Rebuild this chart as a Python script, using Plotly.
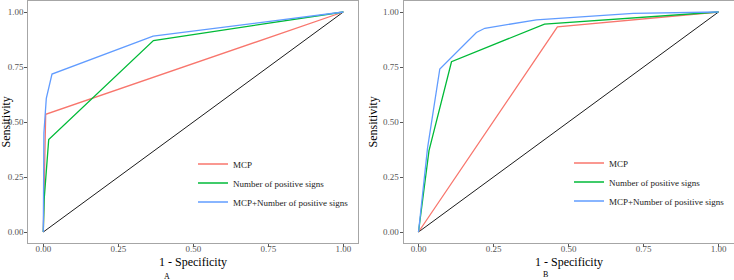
import plotly.graph_objects as go

W, H = 734, 280
FONT = "Times New Roman, Liberation Serif, serif"

series_names = ["MCP", "Number of positive signs", "MCP+Number of positive signs"]
series_colors = ["#F8766D", "#00BA38", "#619CFF"]

# Panel A
a_mcp_x = [0, 0.008, 1]
a_mcp_y = [0, 0.535, 1]
a_num_x = [0, 0.003, 0.018, 0.367, 1]
a_num_y = [0, 0.15, 0.42, 0.87, 1]
a_comb_x = [0, 0.002, 0.01, 0.029, 0.366, 1]
a_comb_y = [0, 0.45, 0.607, 0.718, 0.89, 1]

# Panel B
b_mcp_x = [0, 0.463, 1]
b_mcp_y = [0, 0.932, 1]
b_num_x = [0, 0.035, 0.11, 0.42, 1]
b_num_y = [0, 0.37, 0.774, 0.945, 1]
b_comb_x = [0, 0.03, 0.071, 0.193, 0.221, 0.393, 0.716, 1]
b_comb_y = [0, 0.38, 0.741, 0.907, 0.926, 0.964, 0.994, 1]

diag_x = [0, 1]
diag_y = [0, 1]

tick_vals = [0, 0.25, 0.5, 0.75, 1.0]
tick_text = ["0.00", "0.25", "0.50", "0.75", "1.00"]
panel_labels = ["A", "B"]
x_title = "1 - Specificity"
y_title = "Sensitivity"

fig = go.Figure()

panels = [
    ([a_mcp_x, a_num_x, a_comb_x], [a_mcp_y, a_num_y, a_comb_y], "x", "y", "legend"),
    ([b_mcp_x, b_num_x, b_comb_x], [b_mcp_y, b_num_y, b_comb_y], "x2", "y2", "legend2"),
]
for xs, ys, xa, ya, lg in panels:
    fig.add_trace(go.Scatter(x=diag_x, y=diag_y, mode="lines", xaxis=xa, yaxis=ya,
                             line=dict(color="black", width=0.9), showlegend=False,
                             hoverinfo="skip"))
    for name, color, x, y in zip(series_names, series_colors, xs, ys):
        fig.add_trace(go.Scatter(x=x, y=y, mode="lines", name=name, xaxis=xa, yaxis=ya,
                                 line=dict(color=color, width=1.3), legend=lg))

ydom = [(H - 243) / H, (H - 1) / H]
xdoms = [[28.3 / W, 358.3 / W], [403.5 / W, 733.5 / W]]

axis_common = dict(
    range=[-0.05, 1.05], tickvals=tick_vals, ticktext=tick_text,
    showgrid=False, zeroline=False, showline=True, mirror=True,
    linecolor="#a6a6a6", linewidth=1, ticks="outside", ticklen=3, tickwidth=1,
    tickcolor="#555555", tickfont=dict(family=FONT, size=9, color="#555555"),
    automargin=False,
)

layout = dict(
    width=W, height=H, margin=dict(l=0, r=0, t=0, b=0),
    paper_bgcolor="white", plot_bgcolor="white",
    font=dict(family=FONT, color="black"),
)
for i, xd in enumerate(xdoms):
    sx = "" if i == 0 else str(i + 1)
    layout["xaxis" + sx] = dict(axis_common, domain=xd, anchor="y" + sx, ticklabelstandoff=-6)
    layout["yaxis" + sx] = dict(axis_common, domain=ydom, anchor="x" + sx, ticklabelstandoff=-1)

legend_common = dict(font=dict(family=FONT, size=9, color="#222222"), bgcolor="rgba(0,0,0,0)",
                     borderwidth=0, xanchor="left", yanchor="middle", tracegroupgap=0)
layout["legend"] = dict(legend_common, x=193 / W, y=1 - 183 / H)
layout["legend2"] = dict(legend_common, x=569 / W, y=1 - 182 / H)

fig.update_layout(**layout)

# axis titles
for xd in xdoms:
    xc = (xd[0] + xd[1]) / 2
    fig.add_annotation(text=x_title, x=xc, y=1 - 261.5 / H, xref="paper", yref="paper",
                       showarrow=False, font=dict(family=FONT, size=12, color="black"),
                       xanchor="center", yanchor="middle", borderpad=0)
for px in (5.5, 372.5):
    fig.add_annotation(text=y_title, x=px / W, y=1 - 122 / H, xref="paper", yref="paper",
                       showarrow=False, textangle=-90,
                       font=dict(family=FONT, size=12, color="black"),
                       xanchor="center", yanchor="middle")

label_pos = [(167, 276), (545, 274)]
for text, (px, py) in zip(panel_labels, label_pos):
    fig.add_annotation(text=text, x=px / W, y=1 - py / H, xref="paper", yref="paper",
                       showarrow=False, font=dict(family=FONT, size=8, color="black"),
                       xanchor="center", yanchor="middle")

fig.write_html("out.html")
